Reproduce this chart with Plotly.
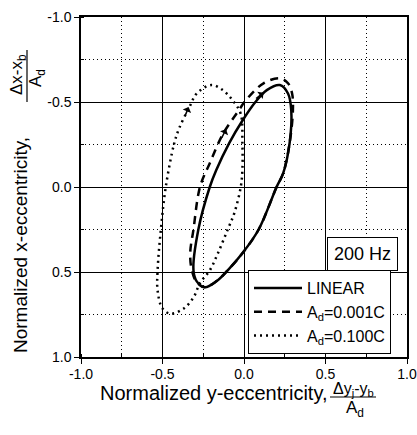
import plotly.graph_objects as go

# ---- data ----
linear_x = [0.24, 0.20, 0.09, -0.01, -0.10, -0.17, -0.24, -0.29, -0.31, -0.28, -0.21, -0.17,
            -0.09, -0.01, 0.07, 0.14, 0.22, 0.27, 0.29, 0.28, 0.24]
linear_y = [-0.08, 0.0, 0.25, 0.39, 0.49, 0.555, 0.59, 0.555, 0.49, 0.25, 0.0, -0.10,
            -0.26, -0.39, -0.50, -0.57, -0.60, -0.55, -0.45, -0.26, -0.08]

a001_x = [0.24, 0.20, 0.09, -0.01, -0.10, -0.17, -0.24, -0.29, -0.32, -0.33, -0.31, -0.27,
          -0.21, -0.13, -0.04, 0.02, 0.12, 0.22, 0.27, 0.295, 0.30, 0.28, 0.24]
a001_y = [-0.08, 0.0, 0.25, 0.39, 0.49, 0.555, 0.59, 0.56, 0.49, 0.39, 0.25, 0.0,
          -0.14, -0.31, -0.44, -0.52, -0.61, -0.64, -0.61, -0.55, -0.45, -0.26, -0.08]

a100_x = [-0.48, -0.43, -0.40, -0.33, -0.29, -0.20, -0.13, -0.07, -0.02, -0.01, -0.01, -0.02,
          -0.06, -0.10, -0.16, -0.21, -0.27, -0.31, -0.37, -0.45, -0.50, -0.53, -0.53, -0.51, -0.48]
a100_y = [0.0, -0.25, -0.34, -0.48, -0.55, -0.60, -0.57, -0.51, -0.43, -0.26, -0.10, 0.0,
          0.155, 0.25, 0.39, 0.49, 0.565, 0.65, 0.715, 0.745, 0.715, 0.61, 0.49, 0.25, 0.0]

series_names = ["LINEAR", "A<sub>d</sub>=0.001C", "A<sub>d</sub>=0.100C"]
tick_vals = [-1.0, -0.5, 0.0, 0.5, 1.0]
tick_text = ["-1.0", "-0.5", "0.0", "0.5", "1.0"]

FONT = "Arial, 'Liberation Sans', sans-serif"
W, H = 417, 435
L, R, T, B = 81, 10, 17, 78
PW, PH = W - L - R, H - T - B


def px2x(px):
    return (px - L) / PW


def py2y(py):
    return (H - B - py) / PH


fig = go.Figure()
fig.add_trace(go.Scatter(x=linear_x, y=linear_y, mode="lines", name=series_names[0],
                         line=dict(color="black", width=2.5, shape="spline", smoothing=1.0)))
fig.add_trace(go.Scatter(x=a001_x, y=a001_y, mode="lines", name=series_names[1],
                         line=dict(color="black", width=2.5, dash="8px,6px", shape="spline", smoothing=1.0)))
fig.add_trace(go.Scatter(x=a100_x, y=a100_y, mode="lines", name=series_names[2],
                         line=dict(color="black", width=2.5, dash="2px,4px", shape="spline", smoothing=1.0)))

axis_common = dict(
    tickvals=tick_vals, ticktext=tick_text,
    showgrid=True, gridcolor="black", gridwidth=1,
    minor=dict(dtick=0.25, showgrid=True, gridcolor="black", gridwidth=1, griddash="1px,3px",
               ticks="inside", ticklen=3, tickcolor="black"),
    showline=True, linecolor="black", linewidth=1.5, mirror=True,
    ticks="outside", ticklen=5, tickcolor="black", tickwidth=1,
    tickfont=dict(family=FONT, size=14, color="black"),
    zeroline=False, automargin=False,
)
fig.update_xaxes(range=[-1.0, 1.0], ticklabelstandoff=-2, **axis_common)
fig.update_yaxes(range=[1.0, -1.0], **axis_common)

ctr = dict(xref="paper", yref="paper", xanchor="center", yanchor="middle", showarrow=False)
ann = []
# axis titles
ann.append(dict(text="Normalized y-eccentricity,", x=px2x(213), y=py2y(393),
                font=dict(family=FONT, size=20, color="black"), **ctr))
ann.append(dict(text="Δy<sub>j</sub>-y<sub>b</sub>", x=px2x(353), y=py2y(389),
                font=dict(family=FONT, size=16, color="black"), **ctr))
ann.append(dict(text="A<sub>d</sub>", x=px2x(355), y=py2y(409),
                font=dict(family=FONT, size=17, color="black"), **ctr))
ann.append(dict(text="Normalized x-eccentricity,", x=px2x(20), y=py2y(245), textangle=-90,
                font=dict(family=FONT, size=19, color="black"), **ctr))
ann.append(dict(text="Δx-x<sub>b</sub>", x=px2x(18), y=py2y(75), textangle=-90,
                font=dict(family=FONT, size=17, color="black"), **ctr))
ann.append(dict(text="A<sub>d</sub>", x=px2x(37), y=py2y(78), textangle=-90,
                font=dict(family=FONT, size=17, color="black"), **ctr))
# 200 Hz box
ann.append(dict(text="200 Hz", x=px2x(362), y=py2y(254),
                font=dict(family=FONT, size=18, color="black"),
                bordercolor="black", borderwidth=1, borderpad=6, bgcolor="white", **ctr))
# direction arrows
for (tx, ty, axp, ayp) in [(0.12, -0.555, -9, 7), (-0.11, -0.34, -5, 10), (-0.34, -0.47, -4, 10)]:
    ann.append(dict(x=tx, y=ty, xref="x", yref="y", ax=axp, ay=ayp, text="", showarrow=True,
                    arrowhead=1, arrowsize=1, arrowwidth=1.5, arrowcolor="black", standoff=0))

shapes = [
    dict(type="line", xref="paper", yref="paper", x0=px2x(330), x1=px2x(376), y0=py2y(397), y1=py2y(397),
         line=dict(color="black", width=1.2)),
    dict(type="line", xref="paper", yref="paper", x0=px2x(27), x1=px2x(27), y0=py2y(50), y1=py2y(102),
         line=dict(color="black", width=1.2)),
]

fig.update_layout(
    width=W, height=H,
    margin=dict(l=L, r=R, t=T, b=B, autoexpand=False),
    paper_bgcolor="white", plot_bgcolor="white",
    font=dict(family=FONT, size=14, color="black"),
    annotations=ann, shapes=shapes,
    showlegend=True,
    legend=dict(x=px2x(248), y=py2y(354), xanchor="left", yanchor="bottom",
                bgcolor="white", bordercolor="black", borderwidth=1,
                font=dict(family=FONT, size=16, color="black"),
                tracegroupgap=0, itemwidth=48),
)

fig.write_html("out.html")
